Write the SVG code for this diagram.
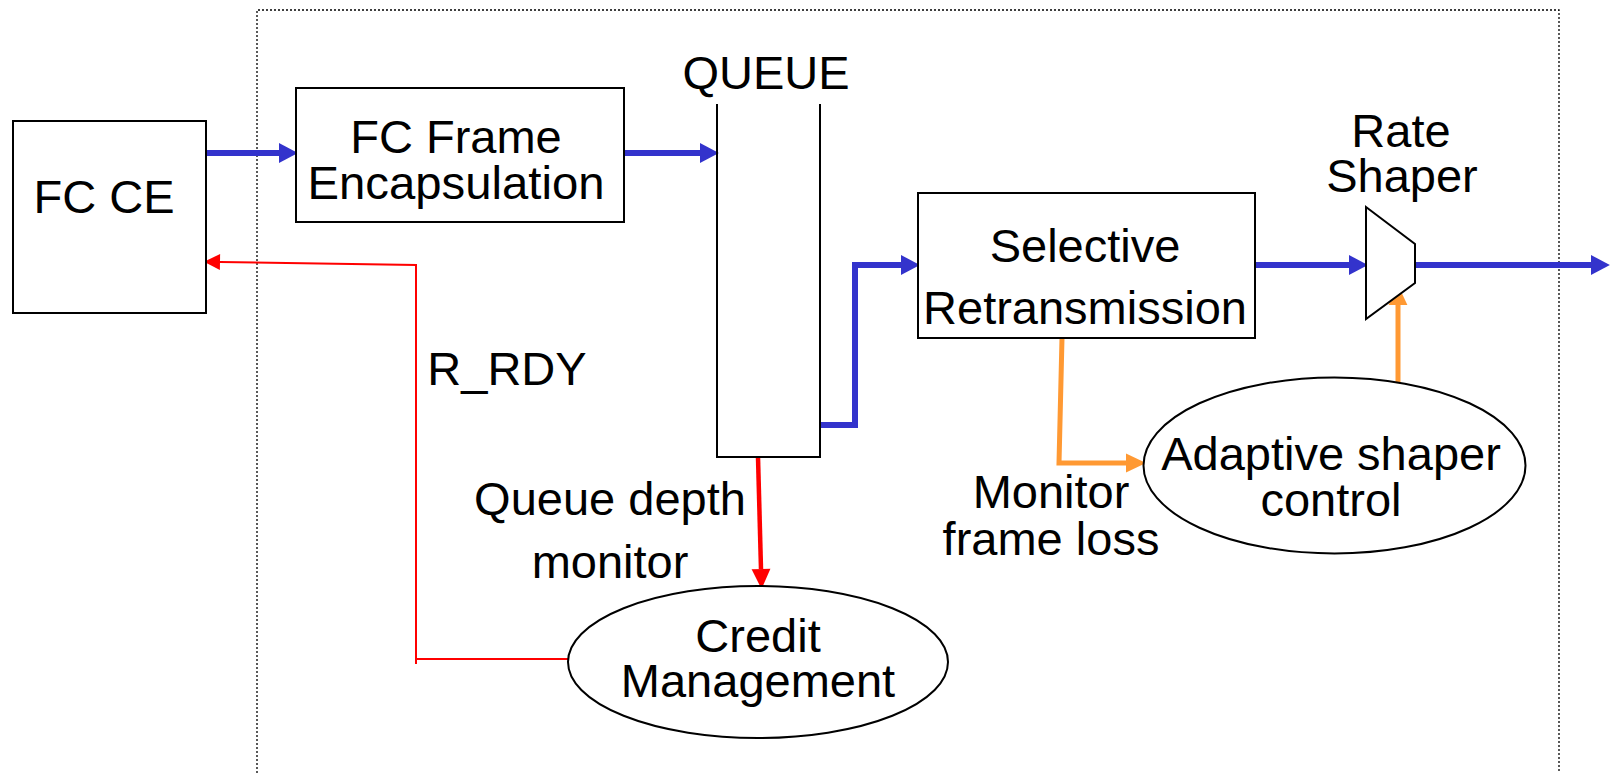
<svg xmlns="http://www.w3.org/2000/svg" width="1610" height="773" viewBox="0 0 1610 773">
<style>
.box{fill:#fff;stroke:#000;stroke-width:2}
.t{font-family:"Liberation Sans",Arial,sans-serif;font-size:47px;fill:#000;text-anchor:middle}
.blue{fill:none;stroke:#3333CC;stroke-width:6}
.red{fill:none;stroke:#FF0000;stroke-width:2}
.redb{fill:none;stroke:#FF0000;stroke-width:4.5}
.orange{fill:none;stroke:#FF9933;stroke-width:5}
</style>
<defs>
<marker id="ab" markerUnits="userSpaceOnUse" markerWidth="20" markerHeight="20" refX="0" refY="9" orient="auto" viewBox="0 0 17 18" overflow="visible">
<path d="M0,0 L17,9 L0,18 z" fill="#3333CC"/>
</marker>
<marker id="ar" markerUnits="userSpaceOnUse" markerWidth="16" markerHeight="16" refX="0" refY="7" orient="auto" viewBox="0 0 14 14" overflow="visible">
<path d="M0,0 L14,7 L0,14 z" fill="#FF0000"/>
</marker>
<marker id="arb" markerUnits="userSpaceOnUse" markerWidth="20" markerHeight="20" refX="0" refY="8" orient="auto" viewBox="0 0 17 16" overflow="visible">
<path d="M0,0 L17,8 L0,16 z" fill="#FF0000"/>
</marker>
<marker id="ao" markerUnits="userSpaceOnUse" markerWidth="20" markerHeight="20" refX="0" refY="8" orient="auto" viewBox="0 0 17 16" overflow="visible">
<path d="M0,0 L17,8 L0,16 z" fill="#FF9933"/>
</marker>
</defs>
<rect width="1610" height="773" fill="#fff"/>
<g id="boundary">
<path d="M257,773 V10 H1559 V773" fill="none" stroke="#000" stroke-width="1.3" stroke-dasharray="2,2"/>
</g>
<g id="connectors">
<path class="blue" d="M204,153 H279" marker-end="url(#ab)"/>
<path class="blue" d="M624,153 H700" marker-end="url(#ab)"/>
<path class="blue" d="M820,425 H855 V265 H901" marker-end="url(#ab)"/>
<path class="blue" d="M1255,265 H1349" marker-end="url(#ab)"/>
<path class="blue" d="M1415,265 H1591" marker-end="url(#ab)"/>
<path class="red" d="M569,659 H416 M416,664 V265 L220,262" marker-end="url(#ar)"/>
<path class="redb" d="M758,457 L761,569" marker-end="url(#arb)"/>
<path class="orange" d="M1062,338 L1059,463 H1126" marker-end="url(#ao)"/>
<path class="orange" d="M1398,382 V305" marker-end="url(#ao)"/>
</g>
<g id="fc-ce">
<rect class="box" x="13" y="121" width="193" height="192"/>
<text class="t" x="104" y="213">FC CE</text>
</g>
<g id="fc-frame-encapsulation">
<rect class="box" x="296" y="88" width="328" height="134"/>
<text class="t" x="456" y="153">FC Frame</text>
<text class="t" x="456" y="199" textLength="297" lengthAdjust="spacingAndGlyphs">Encapsulation</text>
</g>
<g id="queue">
<path d="M717,104 V457 H820 V104" fill="none" stroke="#000" stroke-width="2"/>
<text class="t" x="766" y="89">QUEUE</text>
</g>
<g id="selective-retransmission">
<rect class="box" x="918" y="193" width="337" height="145"/>
<text class="t" x="1085" y="262">Selective</text>
<text class="t" x="1085" y="324">Retransmission</text>
</g>
<g id="rate-shaper">
<polygon class="box" points="1366,207 1415,244 1415,283 1366,319"/>
<text class="t" x="1401" y="147">Rate</text>
<text class="t" x="1402" y="192">Shaper</text>
</g>
<g id="adaptive-shaper-control">
<ellipse class="box" cx="1334.5" cy="465.5" rx="191" ry="88"/>
<text class="t" x="1331" y="470">Adaptive shaper</text>
<text class="t" x="1331" y="516">control</text>
</g>
<g id="credit-management">
<ellipse class="box" cx="758" cy="662" rx="190" ry="76"/>
<text class="t" x="758" y="652">Credit</text>
<text class="t" x="758" y="697">Management</text>
</g>
<g id="labels">
<text class="t" x="507" y="385">R_RDY</text>
<text class="t" x="610" y="515">Queue depth</text>
<text class="t" x="610" y="578">monitor</text>
<text class="t" x="1051" y="508">Monitor</text>
<text class="t" x="1051" y="555">frame loss</text>
</g>
</svg>
